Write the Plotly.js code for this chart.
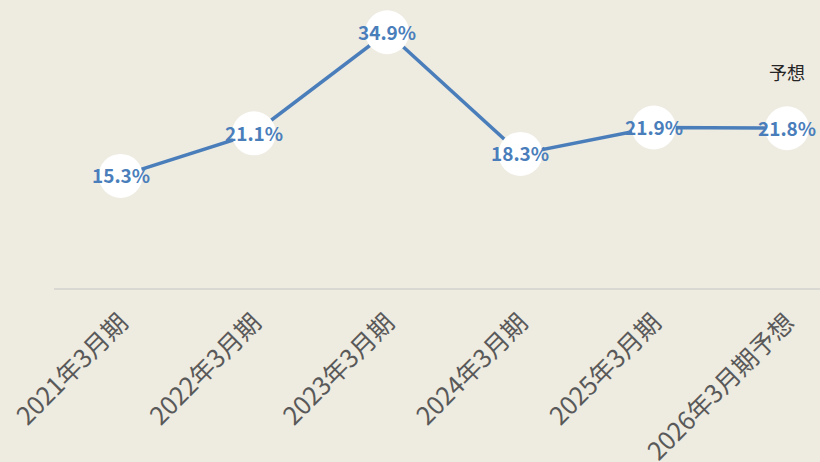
<!DOCTYPE html>
<html>
<head>
<meta charset="utf-8">
<script src="https://cdn.plot.ly/plotly-3.0.1.min.js"></script>
<style>html,body{margin:0;padding:0;background:#EEEBE1;}</style>
</head>
<body>
<div id="chart" style="width:820px;height:462px;"></div>
<script>
const categories = ["2021年3月期", "2022年3月期", "2023年3月期", "2024年3月期", "2025年3月期", "2026年3月期予想"];
const values = [15.3, 21.1, 34.9, 18.3, 21.9, 21.8];
const labels = values.map(v => v.toFixed(1) + "%");
const forecastNote = "予想";

const xs = categories.map((c, i) => i);

const trace = {
  type: "scatter",
  mode: "lines+markers",
  x: xs,
  y: values,
  line: {color: "#4A7EBB", width: 3.5},
  marker: {size: 44, color: "#FFFFFF", line: {width: 0}},
  hoverinfo: "skip",
  cliponaxis: false
};

const labelAnnotations = values.map((v, i) => ({
  x: xs[i], y: v, xref: "x", yref: "y",
  text: "<b>" + labels[i] + "</b>", showarrow: false,
  yshift: 1,
  font: {family: "Noto Sans CJK JP, Noto Sans, sans-serif", size: 19, color: "#4A7EBB"}
}));

const layout = {
  width: 820, height: 462,
  paper_bgcolor: "#EEEBE1",
  plot_bgcolor: "#EEEBE1",
  margin: {l: 54, r: 0, t: 0, b: 174},
  showlegend: false,
  xaxis: {
    tickmode: "array",
    tickvals: xs,
    ticktext: categories,
    range: [-0.5, 5.2475],
    tickangle: -45,
    ticklabelstandoff: 8,
    tickfont: {family: "Noto Sans CJK JP, sans-serif", size: 25, color: "#595959"},
    showgrid: false, zeroline: false,
    showline: true, linecolor: "#D9D8D2", linewidth: 2,
    ticks: "", fixedrange: true
  },
  yaxis: {
    range: [0, 39.3],
    visible: false, showgrid: false, zeroline: false, fixedrange: true
  },
  annotations: labelAnnotations.concat([{
    x: 5, y: 29.5, xref: "x", yref: "y",
    text: forecastNote, showarrow: false,
    font: {family: "Noto Sans CJK JP, sans-serif", size: 18, color: "#262626"}
  }])
};

Plotly.newPlot("chart", [trace], layout, {displayModeBar: false, staticPlot: true});
</script>
</body>
</html>
